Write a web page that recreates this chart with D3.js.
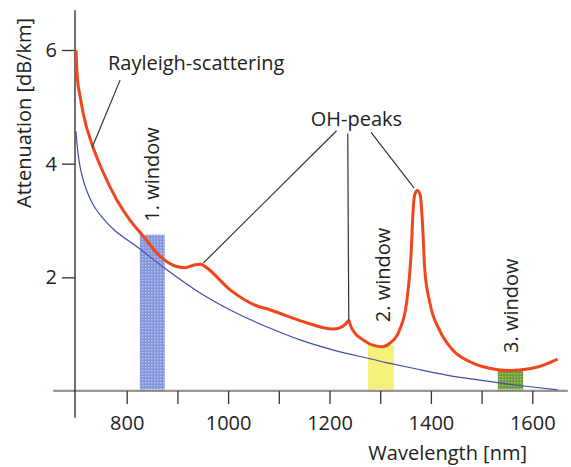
<!DOCTYPE html>
<html>
<head>
<meta charset="utf-8">
<script src="https://cdn.jsdelivr.net/npm/d3@7"></script>
<style>
  html, body { margin: 0; padding: 0; background: #fff; }
  svg { display: block; }
  text { font-family: "Open Sans", "Noto Sans", sans-serif; fill: #222; }
</style>
</head>
<body>
<svg id="chart" width="571" height="467"></svg>
<script>
// ---- data ----
const xTicks = [800, 900, 1000, 1100, 1200, 1300, 1400, 1500, 1600];
const xTickLabels = ["800", "", "1000", "", "1200", "", "1400", "", "1600"];
const yTicks = [2, 4, 6];
const yTickLabels = ["2", "4", "6"];

// measured attenuation (red)
const attWavelength = [700, 701, 703, 708, 714, 734, 754, 780, 806, 833, 866, 899, 915, 935, 946, 956,
  1004, 1056, 1082, 1148, 1207, 1220, 1232, 1238, 1242, 1246, 1266, 1293, 1305, 1319, 1338, 1352,
  1361, 1365, 1368, 1373, 1379, 1383, 1388, 1398, 1417, 1443, 1483, 1529, 1560, 1575, 1614, 1650];
const attValue = [6.0, 5.78, 5.48, 5.19, 4.89, 4.28, 3.84, 3.37, 3.01, 2.72, 2.37, 2.19, 2.17, 2.22, 2.23, 2.18,
  1.78, 1.50, 1.43, 1.22, 1.09, 1.11, 1.18, 1.24, 1.14, 1.07, 0.90, 0.79, 0.78, 0.84, 1.07, 1.55,
  2.43, 3.19, 3.45, 3.53, 3.45, 3.01, 2.13, 1.55, 1.07, 0.72, 0.49, 0.38, 0.36, 0.37, 0.43, 0.56];

// Rayleigh scattering (blue)
const rayWavelength = [700, 704, 710, 720, 735, 755, 777, 826, 875, 944, 1010, 1076, 1142, 1208, 1273, 1312, 1365, 1431, 1497, 1563, 1650];
const rayValue = [4.57, 4.18, 3.86, 3.55, 3.26, 3.02, 2.82, 2.50, 2.16, 1.73, 1.40, 1.13, 0.90, 0.72, 0.58, 0.50, 0.40, 0.28, 0.19, 0.11, 0.02];

// transmission windows
const windowNames = ["1. window", "2. window", "3. window"];
const windowStart = [826, 1276, 1532];
const windowEnd = [875, 1327, 1582];
const windowTop = [2.75, 0.81, 0.36];

// ---- layout ----
const svg = d3.select("#chart");
const x = d3.scaleLinear().domain([700, 1600]).range([76, 532.3]);
const y = d3.scaleLinear().domain([0, 6]).range([391, 50]);

// patterns
const defs = svg.append("defs");
const p1 = defs.append("pattern").attr("id", "patBlue").attr("patternUnits", "userSpaceOnUse")
  .attr("width", 3).attr("height", 3);
p1.append("rect").attr("width", 3).attr("height", 3).attr("fill", "#8596da");
p1.append("rect").attr("x", 1).attr("y", 1).attr("width", 1.4).attr("height", 1.4).attr("fill", "#b8c3ef");
const p3 = defs.append("pattern").attr("id", "patGreen").attr("patternUnits", "userSpaceOnUse")
  .attr("width", 3).attr("height", 3);
p3.append("rect").attr("width", 3).attr("height", 3).attr("fill", "#6f9c3c");
p3.append("rect").attr("x", 1).attr("y", 1).attr("width", 1.4).attr("height", 1.4).attr("fill", "#a6c66c");

const windowFill = ["url(#patBlue)", "#f6f17a", "url(#patGreen)"];

// window bars
svg.append("g").selectAll("rect").data(windowNames).join("rect")
  .attr("x", (d, i) => x(windowStart[i]))
  .attr("width", (d, i) => x(windowEnd[i]) - x(windowStart[i]))
  .attr("y", (d, i) => y(windowTop[i]))
  .attr("height", (d, i) => y(0) - y(windowTop[i]))
  .attr("fill", (d, i) => windowFill[i]);

// axes lines
const xExtent = [655, 1670];
const yExtent = [-0.47, 6.7];
svg.append("line").attr("x1", x(xExtent[0])).attr("x2", x(xExtent[1]))
  .attr("y1", y(0) - 1.2).attr("y2", y(0) - 1.2).attr("stroke", "#b9dcf0").attr("stroke-width", 1);
svg.append("line").attr("x1", x(xExtent[0])).attr("x2", x(xExtent[1]))
  .attr("y1", y(0)).attr("y2", y(0)).attr("stroke", "#8a6f62").attr("stroke-width", 1.4);
svg.append("line").attr("x1", x(700) - 1).attr("x2", x(700) - 1)
  .attr("y1", y(yExtent[1])).attr("y2", y(yExtent[0])).attr("stroke", "#222").attr("stroke-width", 1.3);

// x axis ticks
const xAxis = d3.axisBottom(x).tickValues(xTicks).tickSize(13).tickPadding(12)
  .tickFormat((d, i) => xTickLabels[i]);
const gx = svg.append("g").attr("transform", `translate(0,${y(0)})`).call(xAxis);
gx.select(".domain").remove();
gx.selectAll(".tick line").attr("stroke", "#333").attr("stroke-width", 1.3);
gx.selectAll(".tick text").attr("font-size", 20).attr("fill", "#222")
  .attr("font-family", "'Open Sans', sans-serif");

// y axis ticks
const yAxis = d3.axisLeft(y).tickValues(yTicks).tickSize(13).tickPadding(5)
  .tickFormat((d, i) => yTickLabels[i]);
const gy = svg.append("g").attr("transform", `translate(${x(700) - 1},0)`).call(yAxis);
gy.select(".domain").remove();
gy.selectAll(".tick line").attr("stroke", "#333").attr("stroke-width", 1.3);
gy.selectAll(".tick text").attr("font-size", 20).attr("fill", "#222")
  .attr("font-family", "'Open Sans', sans-serif");

// curves
const smooth = d3.line().curve(d3.curveCatmullRom.alpha(0.5));
const line = d3.line().curve(d3.curveMonotoneX);
svg.append("path")
  .attr("d", smooth(rayWavelength.map((w, i) => [x(w), y(rayValue[i])])))
  .attr("fill", "none").attr("stroke", "#3f4db0").attr("stroke-width", 1.2);
svg.append("path")
  .attr("d", line(attWavelength.map((w, i) => [x(w), y(attValue[i])])))
  .attr("fill", "none").attr("stroke", "#f0461e").attr("stroke-width", 3).attr("stroke-linejoin", "round");

// annotations (data coordinates)
const leaders = [
  [[787, 5.47], [732, 4.29]],
  [[1214, 4.58], [951, 2.25]],
  [[1236, 4.53], [1238, 1.24]],
  [[1282, 4.55], [1367, 3.57]]
];
svg.append("g").selectAll("line").data(leaders).join("line")
  .attr("x1", d => x(d[0][0])).attr("y1", d => y(d[0][1]))
  .attr("x2", d => x(d[1][0])).attr("y2", d => y(d[1][1]))
  .attr("stroke", "#333").attr("stroke-width", 1.2);

svg.append("text").attr("x", x(763)).attr("y", y(5.65)).attr("font-size", 20).text("Rayleigh-scattering");
svg.append("text").attr("x", x(1163)).attr("y", y(4.66)).attr("font-size", 20).text("OH-peaks");

const windowLabelX = [864, 1319, 1571];
const windowLabelY = [2.98, 1.21, 0.67];
svg.append("g").selectAll("text").data(windowNames).join("text")
  .attr("transform", (d, i) => `translate(${x(windowLabelX[i])},${y(windowLabelY[i])}) rotate(-90)`)
  .attr("font-size", 20).text(d => d);

// axis titles
svg.append("text").attr("transform", `translate(31,208) rotate(-90)`).attr("font-size", 20)
  .text("Attenuation [dB/km]");
svg.append("text").attr("x", 527).attr("y", 460).attr("text-anchor", "end").attr("font-size", 20)
  .text("Wavelength [nm]");
</script>
</body>
</html>
